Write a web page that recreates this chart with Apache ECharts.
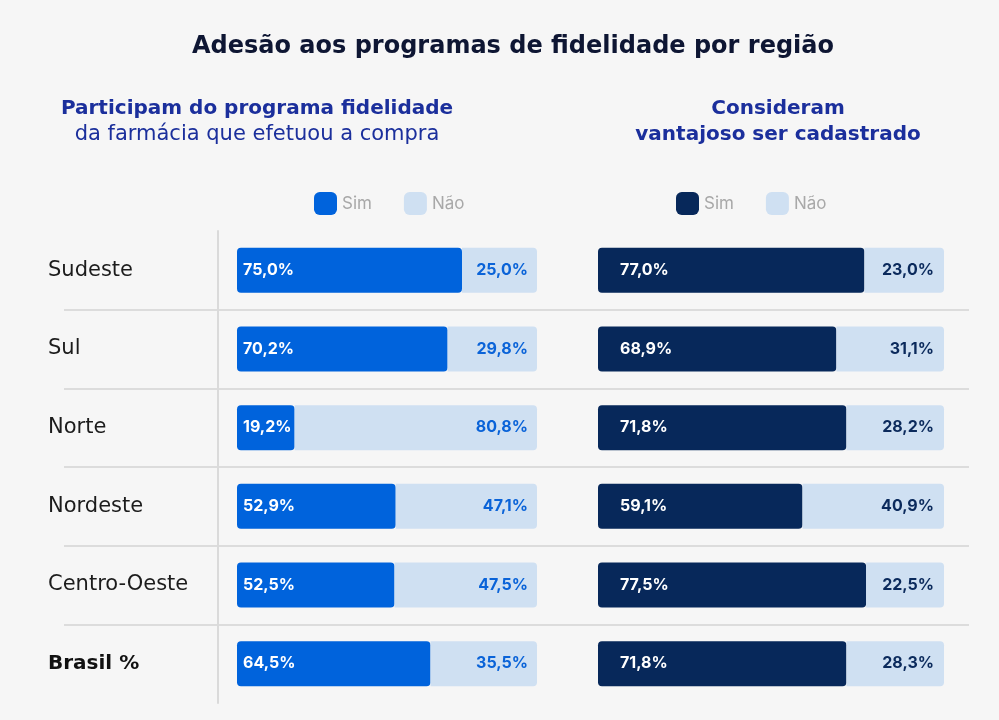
<!DOCTYPE html>
<html>
<head>
<meta charset="utf-8">
<script src="https://cdn.jsdelivr.net/npm/echarts@6/dist/echarts.min.js"></script>
<style>
  html, body { margin: 0; padding: 0; background: #f6f6f6; }
  #chart { width: 999px; height: 720px; }
</style>
</head>
<body>
<div id="chart"></div>
<script>
const regioes = ['Sudeste', 'Sul', 'Norte', 'Nordeste', 'Centro-Oeste', 'Brasil %']
// participam do programa fidelidade
const participaSim = [75.0, 70.2, 19.2, 52.9, 52.5, 64.5]
const participaNao = [25.0, 29.8, 80.8, 47.1, 47.5, 35.5]
// consideram vantajoso ser cadastrado
const vantajosoSim = [77.0, 68.9, 71.8, 59.1, 77.5, 71.8]
const vantajosoNao = [23.0, 31.1, 28.2, 40.9, 22.5, 28.3]

const FONT = '"DejaVu Sans", sans-serif'
const FONT_NUM = 'Inter, "Noto Sans", sans-serif'
const azul = '#0063dc'
const marinho = '#07285a'
const claro = '#cfe0f2'

const pct = (p) => p.value.toFixed(1).replace('.', ',') + '%'

const myChart = echarts.init(document.getElementById('chart'))

const barBase = {
  type: 'bar',
  barWidth: 45,
  emphasis: { disabled: true }
}

const gridTop = 231
const gridH = 472

const legendBase = {
  top: 192, padding: 0,
  icon: 'roundRect', itemWidth: 23, itemHeight: 23, itemGap: 32,
  selectedMode: false,
  textStyle: { fontFamily: FONT_NUM, fontSize: 17, color: '#a8a8a8' }
}

let option = {
  backgroundColor: '#f6f6f6',
  textStyle: { fontFamily: FONT },
  animation: false,
  title: [
    {
      text: 'Adesão aos programas de fidelidade por região',
      left: 508, top: 30, textAlign: 'center',
      textStyle: { fontFamily: FONT, fontSize: 24, fontWeight: 'bold', color: '#0e1633' }
    },
    {
      text: '{b|Participam do programa fidelidade}\n{r|da farmácia que efetuou a compra}',
      left: 252, top: 91, textAlign: 'center',
      textStyle: {
        rich: {
          b: { fontFamily: FONT, fontSize: 20, fontWeight: 'bold', color: '#1b2f9c', lineHeight: 26, align: 'center' },
          r: { fontFamily: FONT, fontSize: 21, fontWeight: 'normal', color: '#1b2f9c', lineHeight: 26, align: 'center' }
        }
      }
    },
    {
      text: 'Consideram\nvantajoso ser cadastrado',
      left: 773, top: 91, textAlign: 'center',
      textStyle: { fontFamily: FONT, fontSize: 20, fontWeight: 'bold', color: '#1b2f9c', lineHeight: 26 }
    }
  ],
  legend: [
    {
      ...legendBase, left: 314,
      data: [
        { name: 'Sim', itemStyle: { color: azul } },
        { name: 'Não', itemStyle: { color: claro } }
      ]
    },
    {
      ...legendBase, left: 676,
      data: [
        { name: 'Sim', itemStyle: { color: marinho } },
        { name: 'Não', itemStyle: { color: claro } }
      ]
    }
  ],
  grid: [
    { left: 237, width: 300, top: gridTop, height: gridH },
    { left: 598, width: 346, top: gridTop, height: gridH },
    { left: 64, width: 905, top: gridTop, height: gridH } // só para as linhas separadoras
  ],
  xAxis: [
    { type: 'value', gridIndex: 0, min: 0, max: 100, show: false },
    { type: 'value', gridIndex: 1, min: 0, max: 100, show: false },
    { type: 'value', gridIndex: 2, min: 0, max: 1, show: false }
  ],
  yAxis: [
    {
      type: 'category', gridIndex: 0, data: regioes, inverse: true,
      offset: 19,
      axisLine: { show: true, onZero: false, lineStyle: { color: '#dadada', width: 2 } },
      axisTick: { show: false },
      splitLine: { show: false },
      axisLabel: {
        margin: 170, align: 'left', fontFamily: FONT, fontSize: 21, color: '#1c1c1c',
        formatter: (v) => v === 'Brasil %' ? '{b|' + v + '}' : v,
        rich: { b: { fontFamily: FONT, fontSize: 20, fontWeight: 'bold', color: '#111' } }
      }
    },
    { type: 'category', gridIndex: 1, data: regioes, inverse: true, show: false },
    {
      type: 'category', gridIndex: 2, data: regioes, inverse: true,
      axisLine: { show: false }, axisTick: { show: false }, axisLabel: { show: false },
      splitLine: { show: true, showMinLine: false, showMaxLine: false, lineStyle: { color: '#dcdcdc', width: 2 } }
    }
  ],
  series: [
    {
      ...barBase, name: 'Sim', stack: 'participa', xAxisIndex: 0, yAxisIndex: 0, data: participaSim,
      itemStyle: { color: azul, borderRadius: 4 },
      label: { show: true, position: 'insideLeft', distance: 6, formatter: pct,
        fontFamily: FONT_NUM, fontSize: 16, fontWeight: 'bold', color: '#ffffff' }
    },
    {
      ...barBase, name: 'Não', stack: 'participa', xAxisIndex: 0, yAxisIndex: 0, data: participaNao,
      itemStyle: { color: claro, borderRadius: [0, 4, 4, 0] },
      label: { show: true, position: 'insideRight', distance: 9, formatter: pct,
        fontFamily: FONT_NUM, fontSize: 16, fontWeight: 'bold', color: '#0a63d8' }
    },
    {
      ...barBase, name: 'Sim', stack: 'vantajoso', xAxisIndex: 1, yAxisIndex: 1, data: vantajosoSim,
      itemStyle: { color: marinho, borderRadius: 4 },
      label: { show: true, position: 'insideLeft', distance: 22, formatter: pct,
        fontFamily: FONT_NUM, fontSize: 16, fontWeight: 'bold', color: '#ffffff' }
    },
    {
      ...barBase, name: 'Não', stack: 'vantajoso', xAxisIndex: 1, yAxisIndex: 1, data: vantajosoNao,
      itemStyle: { color: claro, borderRadius: [0, 4, 4, 0] },
      label: { show: true, position: 'insideRight', distance: 10, formatter: pct,
        fontFamily: FONT_NUM, fontSize: 16, fontWeight: 'bold', color: '#0b2a5c' }
    }
  ]
}
myChart.setOption(option)
</script>
</body>
</html>
